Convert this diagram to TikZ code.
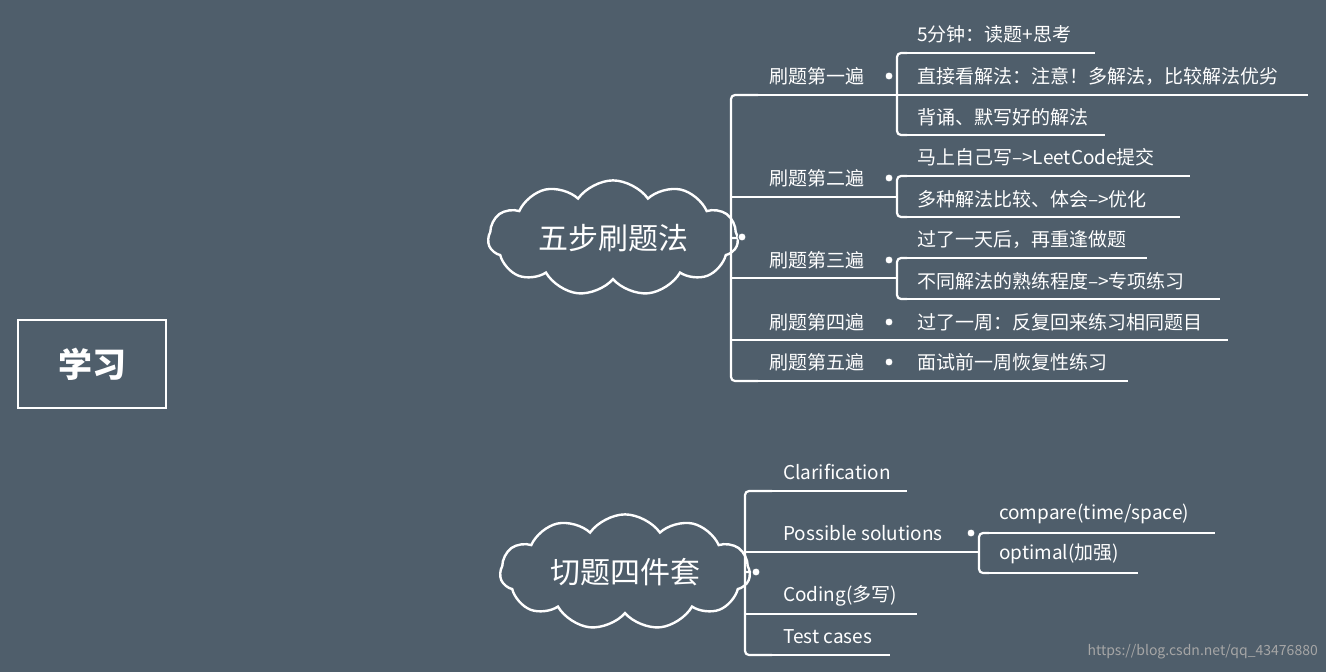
\documentclass[tikz,border=0pt]{standalone}
\usepackage{fontspec}
\setmainfont{Noto Sans CJK SC}
\usetikzlibrary{shapes.symbols}
\definecolor{bg}{HTML}{4F5E6B}
\tikzset{x=1pt,y=-1pt,
  ln/.style={draw=white,line width=2.2pt},
  lbl/.style={text=white,anchor=west,inner sep=0pt,font=\fontsize{19}{20}\selectfont},
  dot/.style={circle,fill=white,draw=bg,line width=0.8pt,minimum size=8pt,inner sep=0pt},
  cl/.style={cloud,cloud puffs=11,cloud puff arc=110,aspect=2.6,draw=white,line width=2.4pt,fill=bg,text=white,font=\fontsize{30}{32}\selectfont,inner sep=4pt}}
\begin{document}
\begin{tikzpicture}
\fill[bg] (0,0) rectangle (1326,672);
\useasboundingbox (0,0) rectangle (1326,672);
\node[draw=white,line width=2.4pt,minimum width=148pt,minimum height=88pt,text=white,font=\bfseries\fontsize{34}{36}\selectfont] (root) at (92,364) {学习};
% top cloud
\node[cl,minimum width=250pt,minimum height=92pt] (c1) at (613,238) {五步刷题法};
\coordinate (s1t) at (731,95); \coordinate (s1b) at (731,381);
\draw[ln,rounded corners=4pt] (c1.east) -- (731,238);
\draw[ln,rounded corners=4pt] (758,95) -- (s1t) -- (s1b) -- (758,381);
\foreach \y in {197,278,340}{\draw[ln] (731,\y) -- (758,\y);}
\node[lbl] (a1) at (769,76) {刷题第一遍};
\node[lbl] (a2) at (769,178) {刷题第二遍};
\node[lbl] (a3) at (769,260) {刷题第三遍};
\node[lbl] (a4) at (769,322) {刷题第四遍};
\node[lbl] (a5) at (769,362) {刷题第五遍};
\draw[ln] (758,95) -- (897,95);
\draw[ln] (758,197) -- (897,197);
\draw[ln] (758,278) -- (897,278);
\draw[ln] (758,340) -- (907,340);
\draw[ln] (758,381) -- (907,381);
% level 3 spines
\draw[ln,rounded corners=4pt] (907,53) -- (897,53) -- (897,135) -- (907,135);
\draw[ln,rounded corners=4pt] (907,176) -- (897,176) -- (897,217) -- (907,217);
\draw[ln,rounded corners=4pt] (907,258) -- (897,258) -- (897,299) -- (907,299);
\node[lbl] (b1) at (917,34) {5分钟：读题+思考};
\node[lbl] (b2) at (917,76) {直接看解法：注意！多解法，比较解法优劣};
\node[lbl] (b3) at (917,117) {背诵、默写好的解法};
\node[lbl] (b4) at (917,157) {马上自己写-->LeetCode提交};
\node[lbl] (b5) at (917,199) {多种解法比较、体会-->优化};
\node[lbl] (b6) at (917,240) {过了一天后，再重逢做题};
\node[lbl] (b7) at (917,281) {不同解法的熟练程度-->专项练习};
\node[lbl] (b8) at (917,322) {过了一周：反复回来练习相同题目};
\node[lbl] (b9) at (917,362) {面试前一周恢复性练习};
\draw[ln] (907,53) -- (1095,53);
\draw[ln] (897,95) -- (1308,95);
\draw[ln] (907,135) -- (1105,135);
\draw[ln] (907,176) -- (1190,176);
\draw[ln] (907,217) -- (1180,217);
\draw[ln] (907,258) -- (1147,258);
\draw[ln] (907,299) -- (1220,299);
\draw[ln] (907,340) -- (1228,340);
\draw[ln] (907,381) -- (1128,381);
\foreach \y/\n in {76/d1,178/d2,260/d3,322/d4,362/d5}{\node[dot] (\n) at (889,\y) {};}
\node[dot] (d0) at (742,237) {};
% bottom cloud
\node[cl,minimum width=250pt,minimum height=92pt] (c2) at (625,572) {切题四件套};
\draw[ln] (c2.east) -- (745,572);
\draw[ln,rounded corners=4pt] (772,491) -- (745,491) -- (745,655) -- (772,655);
\draw[ln] (745,552) -- (772,552);
\draw[ln] (745,614) -- (772,614);
\node[lbl] (e1) at (783,472) {Clarification};
\node[lbl] (e2) at (783,533) {Possible solutions};
\node[lbl] (e3) at (783,596) {Coding(多写)};
\node[lbl] (e4) at (783,637) {Test cases};
\draw[ln] (772,491) -- (907,491);
\draw[ln] (772,552) -- (979,552);
\draw[ln] (772,614) -- (917,614);
\draw[ln] (772,655) -- (890,655);
\draw[ln,rounded corners=4pt] (989,533) -- (979,533) -- (979,573) -- (989,573);
\node[lbl] (f1) at (999,514) {compare(time/space)};
\node[lbl] (f2) at (999,554) {optimal(加强)};
\draw[ln] (989,533) -- (1215,533);
\draw[ln] (989,573) -- (1138,573);
\node[dot] (d6) at (971,533) {};
\node[dot] (d7) at (756,572) {};
\node[text=gray!70,anchor=east,font=\fontsize{14}{16}\selectfont,inner sep=0pt] (wm) at (1318,652) {https://blog.csdn.net/qq\_43476880};
\end{tikzpicture}
\end{document}
